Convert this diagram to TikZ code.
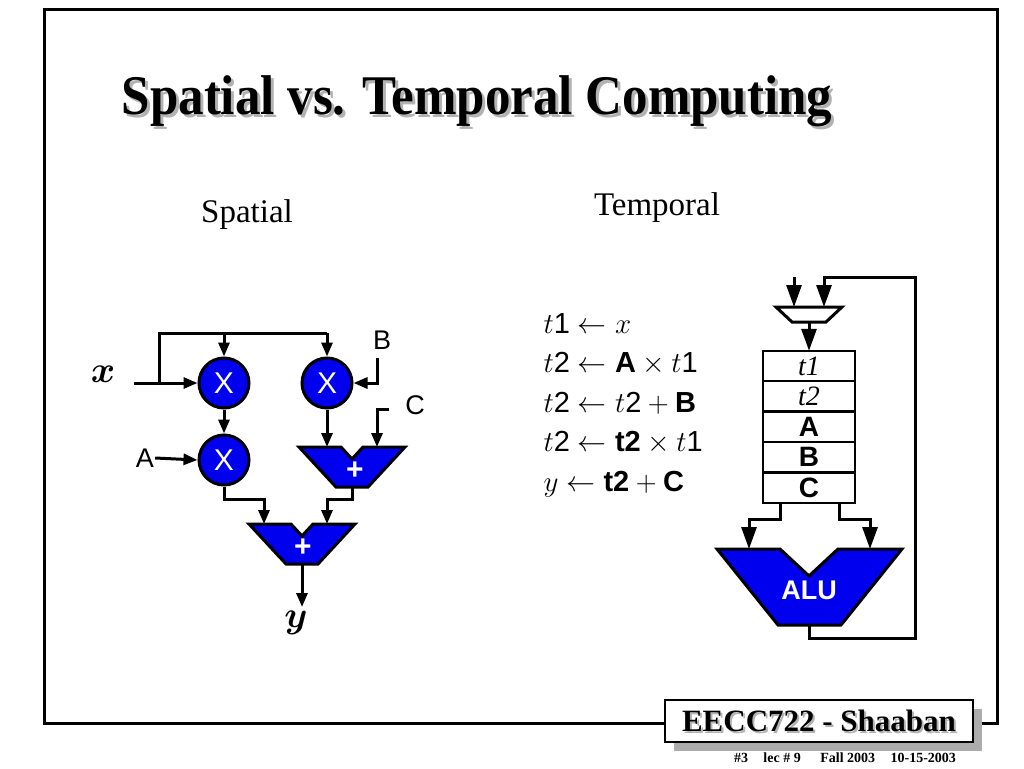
\RequirePackage{fix-cm}
\documentclass[tikz,border=0pt]{standalone}
\usepackage{fontspec}
\setmainfont{Liberation Serif}
\setsansfont{Liberation Sans}
\usetikzlibrary{arrows.meta, positioning, shadows}
\definecolor{unitblue}{RGB}{0,0,238}
\newcommand{\fs}[1]{\fontsize{#1}{#1}\selectfont}

\begin{document}
\begin{tikzpicture}[x=1pt,y=-1pt,
  wire/.style={line width=3pt},
  arr/.style={wire,-{Triangle[length=14pt,width=11pt]}},
  bigarr/.style={wire,-{Triangle[length=22pt,width=15pt]}},
  mult/.style={circle,draw,line width=3pt,fill=unitblue,minimum size=50pt,inner sep=0pt,text=white,font=\sffamily\fs{30}},
  unit/.style={draw,line width=3pt,fill=unitblue,line join=miter},
  unitlabel/.style={text=white,font=\sffamily\bfseries\fs{#1}},
  inlabel/.style={font=\sffamily\fs{27},inner sep=1pt},
  reg/.style={draw,line width=2.5pt,minimum width=92pt,minimum height=30.4pt,inner sep=0pt,outer sep=0pt},
  eq/.style={anchor=base west,font=\fs{29}},
]
\useasboundingbox (0,0) rectangle (1024,768);
\draw[line width=3pt] (44,10) rectangle (997,723);

% title
\node[anchor=base,font=\bfseries\fs{56},xscale=0.91,text=gray!60] at (480,117) {Spatial vs. Temporal Computing};
\node[anchor=base,font=\bfseries\fs{56},xscale=0.91] (title) at (477,114) {Spatial vs. Temporal Computing};
\node[font=\fs{33}] (spatial) at (247,215) {Spatial};
\node[font=\fs{33}] (temporal) at (657,208) {Temporal};

% spatial
\node[mult] (m1) at (224,383) {X};
\node[mult] (m2) at (327,383) {X};
\node[mult] (m3) at (224,460) {X};
\draw[unit] (299,447) -- (341,447) -- (352,459) -- (363,447) -- (405,447) -- (368,487) -- (336,487) -- cycle;
\draw[unit] (249,524) -- (291,524) -- (302,536) -- (313,524) -- (355,524) -- (318,564) -- (286,564) -- cycle;
\node[unitlabel=30] (plus1) at (355,471) {+};
\node[unitlabel=30] (plus2) at (303,548) {+};
\coordinate (add1-in1) at (327,447);
\coordinate (add1-in2) at (377,447);
\coordinate (add1-out) at (352,487);
\coordinate (add2-in1) at (264,524);
\coordinate (add2-in2) at (327,524);
\coordinate (add2-out) at (302,564);

\node[font=\fs{37}\boldmath] (xlab) at (103,374) {$x$};
\node[inlabel] (alab) at (145,458) {A};
\node[inlabel] (blab) at (382,340) {B};
\node[inlabel] (clab) at (415,405) {C};
\node[font=\fs{37}\boldmath] (ylab) at (296,623) {$y$};
\coordinate (xin) at (134,383);
\coordinate (split) at (159,383);
\coordinate (bus) at (159,333);
\coordinate (bin) at (377,358);
\coordinate (cin) at (389,409);
\coordinate (yout) at (302,607);

\draw[arr] (xin) -- (m1.west);
\draw[wire] (split) -- (bus) -- (m2.north |- bus);
\draw[arr] (m1.north |- bus) -- (m1.north);
\draw[arr] (m2.north |- bus) -- (m2.north);
\draw[arr] (bin) |- (m2.east);
\draw[arr] (cin) -| (add1-in2);
\draw[arr] (m2.south) -- (add1-in1);
\draw[arr] (alab.east) -- (m3.west);
\draw[arr] (m1.south) -- (m3.north);
\draw[arr] (m3.south) -- ++(0,13) -| (add2-in1);
\draw[arr] (add1-out) -- ++(0,12) -| (add2-in2);
\draw[arr] (add2-out) -- (yout);

% temporal
\foreach \t [count=\i] in {
  {$t\textsf{1} \leftarrow x$},
  {$t\textsf{2} \leftarrow \textsf{\bfseries A} \times t\textsf{1}$},
  {$t\textsf{2} \leftarrow t\textsf{2} + \textsf{\bfseries B}$},
  {$t\textsf{2} \leftarrow \textsf{\bfseries t2} \times t\textsf{1}$},
  {$y \leftarrow \textsf{\bfseries t2} + \textsf{\bfseries C}$}}
  \node[eq] (eq\i) at (540,{333+39.5*(\i-1)}) {\t};

\draw[wire,fill=white] (776,307) -- (842,307) -- (826,322) -- (792,322) -- cycle;
\coordinate (mux-in1) at (794,307);
\coordinate (mux-in2) at (824,307);
\coordinate (mux-out) at (809,322);
\coordinate (src) at (794,277);

\node[reg,font=\itshape\fs{28}] (r1) at (809,366) {t1};
\node[reg,font=\itshape\fs{28},below=0pt of r1] (r2) {t2};
\node[reg,font=\sffamily\bfseries\fs{28},below=0pt of r2] (r3) {A};
\node[reg,font=\sffamily\bfseries\fs{28},below=0pt of r3] (r4) {B};
\node[reg,font=\sffamily\bfseries\fs{28},below=0pt of r4] (r5) {C};

\draw[unit] (717,549) -- (780,549) -- (809,576) -- (838,549) -- (902,549) -- (841,625) -- (778,625) -- cycle;
\node[unitlabel=27] (alu) at (809,590) {ALU};
\coordinate (alu-in1) at (749,549);
\coordinate (alu-in2) at (870,549);
\coordinate (alu-out) at (809,625);
\coordinate (loop) at (915,638);

\draw[bigarr] (src) -- (mux-in1);
\draw[bigarr] (mux-out) -- (r1.north);
\draw[bigarr] ([xshift=-29pt]r5.south) -- ++(0,17) -| (alu-in1);
\draw[bigarr] ([xshift=30pt]r5.south) -- ++(0,17) -| (alu-in2);
\draw[bigarr] (alu-out) |- (loop) |- ([yshift=30pt]mux-in2) -- (mux-in2);

% footer
\node[draw,line width=2pt,fill=white,minimum width=308pt,minimum height=42pt,
  drop shadow={shadow xshift=9pt,shadow yshift=-9pt,fill=gray!65,opacity=1}] (brand) at (819,721) {};
\node[font=\bfseries\fs{31},text=gray!60] at (821,723) {EECC722 - Shaaban};
\node[font=\bfseries\fs{31}] (brandtext) at (brand) {EECC722 - Shaaban};
\node[font=\bfseries\fs{14}] (footer) at (845,758) {\#3\hspace{1.1em}lec \# 9\hspace{1.4em}Fall 2003\hspace{1.1em}10-15-2003};
\end{tikzpicture}
\end{document}
